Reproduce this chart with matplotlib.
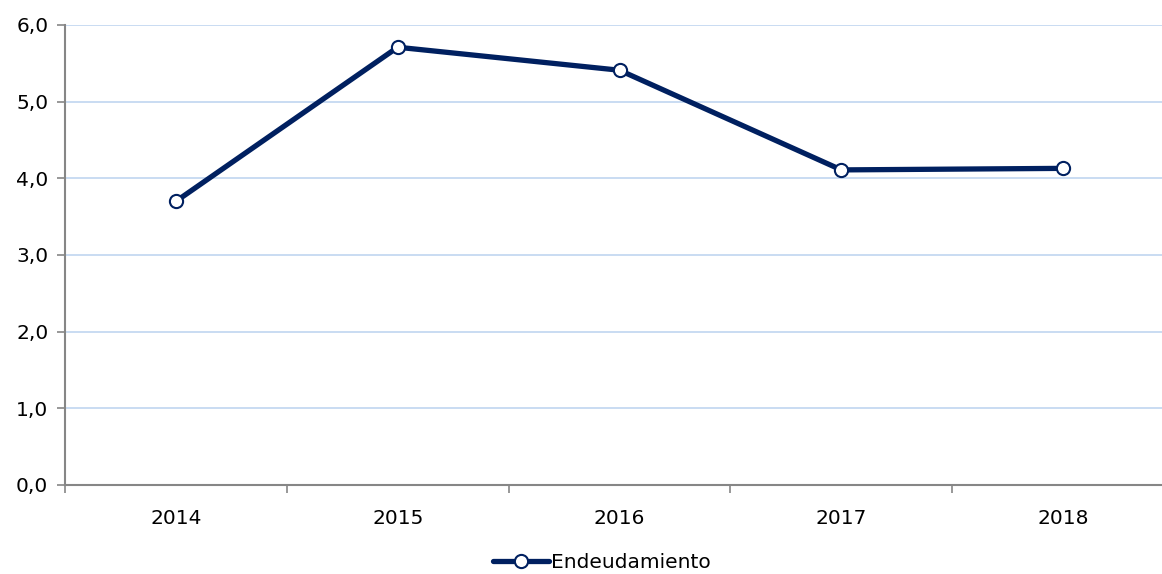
import matplotlib
matplotlib.use("Agg")
import matplotlib.pyplot as plt
import numpy as np

years = ["2014", "2015", "2016", "2017", "2018"]
endeudamiento = [3.70, 5.71, 5.41, 4.11, 4.13]
yticks = [0, 1, 2, 3, 4, 5, 6]

W, H = 1162, 574
fig = plt.figure(figsize=(W/100, H/100), dpi=100)
ax = fig.add_axes([65/W, 89/H, (1174-65)/W, 460/H])

navy = "#002060"
grid = "#C5D9F1"
axc = "#868686"
fs = 14.5

x = np.arange(len(years))
line, = ax.plot(x, endeudamiento, color=navy, lw=3.8, marker="o", ms=9.5,
                mfc="white", mec=navy, mew=1.5, zorder=3, clip_on=False,
                solid_capstyle="round")

ax.set_xlim(-0.5, len(years) - 0.5)
ax.set_ylim(0, 6)
ax.set_yticks(yticks)
ax.set_yticklabels([f"{v:.1f}".replace(".", ",") for v in yticks], fontsize=fs)
ax.set_xticks(x)
ax.set_xticklabels(years, fontsize=fs)
ax.set_xticks(np.arange(-0.5, len(years), 1), minor=True)
ax.tick_params(axis="x", which="major", length=0, pad=17)
ax.tick_params(axis="x", which="minor", length=6, color=axc, width=1.2)
ax.tick_params(axis="y", length=6, color=axc, width=1.2, pad=6)

for y in yticks[1:]:
    ax.axhline(y, color=grid, lw=1.3, zorder=1)

for s in ["top", "right"]:
    ax.spines[s].set_visible(False)
for s in ["left", "bottom"]:
    ax.spines[s].set_color(axc)
    ax.spines[s].set_linewidth(1.5)

fig.legend([line], ["Endeudamiento"], loc="center", bbox_to_anchor=(602/W, 1-563/H),
           frameon=False, fontsize=fs, handlelength=2.8, handletextpad=0.1)

fig.savefig("out.png", dpi=100)
